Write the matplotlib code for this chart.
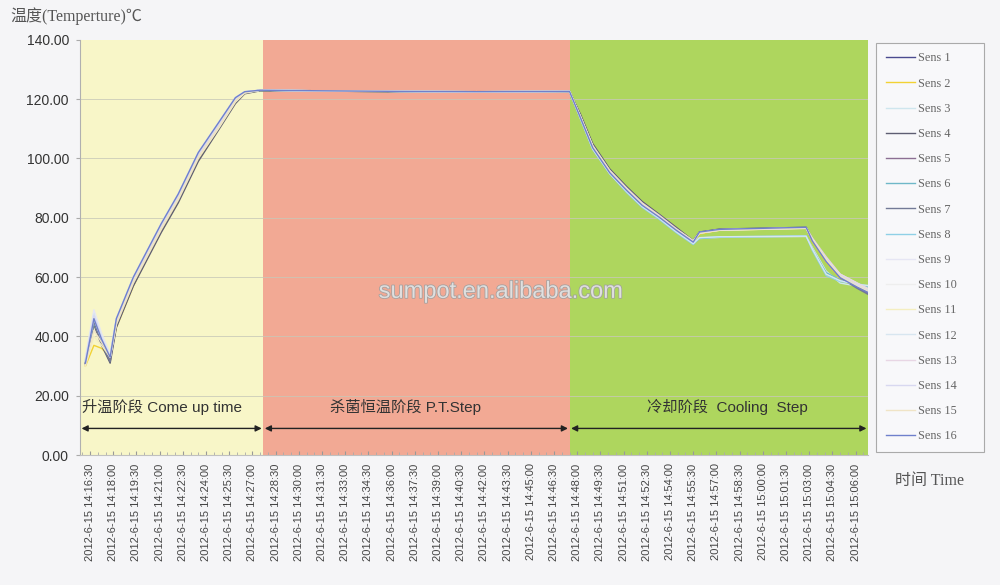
import matplotlib
matplotlib.use("Agg")
import matplotlib.pyplot as plt
import matplotlib.patheffects as pe
import numpy as np

# ---- data -------------------------------------------------------------
# time in minutes after 2012-6-15 14:16:30
times = [-0.3, 0.25, 0.75, 1.3, 1.7, 2.8, 3.6, 4.6, 5.7, 7.0, 8.3, 9.4, 10.0, 11.0,
         15, 20, 25, 31.0, 31.7, 32.5, 33.6, 34.7, 35.7, 36.8, 37.9, 39.0, 39.4,
         40.7, 46.3, 46.7, 47.6, 48.5, 49.6, 50.3]

sens1 = [31, 45.5, 38, 32.5, 45, 59, 67, 77, 87, 101, 111, 120, 122.3, 123, 122.8, 122.6, 122.5,
         122.6, 114.2, 104, 95.6, 89.5, 84.5, 80.4, 76, 72, 75, 76, 76.7, 72.6, 65.9, 60.1, 56.8, 54.7]
sens2 = [30, 37, 36, 33, 43, 57, 65.5, 75.5, 85.5, 99.5, 110, 119, 122, 122.9, 122.7, 122.5, 122.4,
         122.5, 114, 103.5, 95, 89, 84, 80, 75.5, 71.5, 74.5, 75.8, 76.5, 72, 65, 59.5, 56.5, 55]
sens3 = [32, 48, 40, 34, 46, 60, 68, 78, 88, 102, 112, 120.5, 122.5, 123, 122.8, 122.6, 122.5,
         122.6, 113.5, 103.5, 95, 89, 84, 80, 75.5, 71.5, 73, 73.4, 73.7, 70, 62, 58, 57, 56.5]
sens4 = [30.5, 44, 37, 31, 43, 57, 65, 75, 85, 99, 109.5, 118.5, 121.8, 122.8, 122.7, 122.5, 122.4,
         122.5, 115, 105, 96.5, 90.5, 85.5, 81.2, 76.8, 72.3, 75.2, 76.2, 76.8, 73, 66.5, 60.5, 57, 55]
sens5 = [31, 45, 38, 32, 44, 58, 66, 76, 86, 100, 110.5, 119.5, 122.2, 123, 122.8, 122.6, 122.5,
         122.6, 114.5, 104.5, 96, 90, 85, 81, 76.5, 72, 75, 76, 76.6, 72.8, 66.2, 60.3, 56.5, 54.5]
sens6 = [31.5, 44.5, 38.5, 33, 44.5, 58.5, 66.5, 76.5, 86.5, 100.5, 110.8, 119.8, 122.2, 122.9, 122.7,
         122.5, 122.4, 122.5, 113.8, 103.5, 95, 88.8, 83.8, 79.6, 75.2, 71.2, 73, 73.5, 73.8, 69.5, 61.5,
         59, 57.5, 56.5]
sens7 = [31, 45, 37.5, 31.5, 44, 58, 66, 76, 86, 100, 110.5, 119.5, 122.2, 122.9, 122.7, 122.5, 122.4,
         122.5, 114.5, 104.5, 96, 90, 85, 80.8, 76.3, 72.2, 75, 76, 76.6, 72.5, 65.5, 59.8, 56.2, 54.2]
sens8 = [32, 46, 39, 33.5, 45.5, 59.5, 67.5, 77.5, 87.5, 101.5, 111.5, 120.3, 122.4, 123, 122.8, 122.6,
         122.5, 122.6, 113.5, 103, 94.8, 88.5, 83.5, 79.5, 75, 71, 73.2, 73.6, 73.9, 69, 60.5, 58.5, 57.8, 57]
sens9 = [33, 49, 41, 34, 46, 60, 68, 78, 88, 102, 112, 120.5, 122.5, 123, 122.8, 122.6, 122.5,
         122.6, 114, 104, 95.5, 89.5, 84.5, 80.5, 76, 72, 75, 76, 76.7, 73, 66, 61, 58, 56]
sens10 = [32, 47, 40, 33, 45, 59, 67, 77, 87, 101, 111, 120, 122.3, 123, 122.8, 122.6, 122.5,
          122.6, 114, 104, 95.5, 89.5, 84.5, 80.5, 76, 72, 74.8, 75.8, 76.5, 72.5, 65.5, 60, 57.5, 56]
sens11 = [30, 40, 37, 33, 44, 58, 66, 76, 86, 100, 110, 119, 122, 123, 122.8, 122.6, 122.5,
          122.6, 114.2, 104.2, 95.8, 89.8, 84.8, 80.6, 76.2, 72, 74.8, 75.8, 76.4, 72.6, 66, 60.5, 57.5, 56]
sens12 = [32.5, 47.5, 40, 33.5, 45.5, 59.5, 67.5, 77.5, 87.5, 101.5, 111.5, 120.3, 122.4, 123, 122.8,
          122.6, 122.5, 122.6, 113.6, 103.2, 94.9, 88.8, 83.8, 79.8, 75.3, 71.3, 73.3, 73.6, 73.8, 69.5,
          61, 58.8, 57.5, 57.2]
sens13 = [31.5, 46, 39, 33, 45, 59, 67, 77, 87, 101, 111, 120, 122.3, 123, 122.8, 122.6, 122.5,
          122.6, 114.3, 104.3, 96, 90, 85, 80.8, 76.3, 72.3, 75, 76, 76.6, 73.2, 66.8, 61, 58, 56.2]
sens14 = [32, 47, 39.5, 33, 45, 59, 67, 77, 87, 101, 111, 120, 122.3, 123, 122.8, 122.6, 122.5,
          122.6, 114, 104, 95.6, 89.6, 84.6, 80.4, 76, 71.8, 74.8, 75.9, 76.5, 72.8, 66.2, 60.5, 57.2, 55.5]
sens15 = [30.5, 42, 38, 33, 44.5, 58.5, 66.5, 76.5, 86.5, 100.5, 110.5, 119.5, 122.2, 123, 122.8,
          122.6, 122.5, 122.6, 114.1, 104.1, 95.7, 89.7, 84.7, 80.5, 76.1, 72.1, 74.9, 75.9, 76.6, 72.7,
          66, 60.2, 57, 55.2]
sens16 = [31, 46, 39, 33, 46, 60, 68, 78, 88, 102, 112, 120.5, 122.5, 123, 122.8, 122.6, 122.5,
          122.6, 113.8, 103.6, 95.2, 89.2, 84.2, 80.2, 75.8, 71.8, 75.2, 76.1, 76.8, 72.2, 65.2, 59.8,
          56.6, 54.8]

series = [sens1, sens2, sens3, sens4, sens5, sens6, sens7, sens8,
          sens9, sens10, sens11, sens12, sens13, sens14, sens15, sens16]
labels = ["Sens %d" % i for i in range(1, 17)]
colors = ['#4b4b8f', '#f2d233', '#cfe6ee', '#5e5e72', '#8c6f93', '#6fb8c8', '#737a96', '#8fd0e6',
          '#e6e6f4', '#eeeeee', '#f4eec0', '#d8e6f0', '#e8d6e4', '#d8d8f0', '#f0e4c6', '#6f80cc']

tick_labels = ["2012-6-15 14:16:30", "2012-6-15 14:18:00", "2012-6-15 14:19:30",
               "2012-6-15 14:21:00", "2012-6-15 14:22:30", "2012-6-15 14:24:00",
               "2012-6-15 14:25:30", "2012-6-15 14:27:00", "2012-6-15 14:28:30",
               "2012-6-15 14:30:00", "2012-6-15 14:31:30", "2012-6-15 14:33:00",
               "2012-6-15 14:34:30", "2012-6-15 14:36:00", "2012-6-15 14:37:30",
               "2012-6-15 14:39:00", "2012-6-15 14:40:30", "2012-6-15 14:42:00",
               "2012-6-15 14:43:30", "2012-6-15 14:45:00", "2012-6-15 14:46:30",
               "2012-6-15 14:48:00", "2012-6-15 14:49:30", "2012-6-15 14:51:00",
               "2012-6-15 14:52:30", "2012-6-15 14:54:00", "2012-6-15 14:55:30",
               "2012-6-15 14:57:00", "2012-6-15 14:58:30", "2012-6-15 15:00:00",
               "2012-6-15 15:01:30", "2012-6-15 15:03:00", "2012-6-15 15:04:30",
               "2012-6-15 15:06:00"]
tick_pos = [1.5 * i for i in range(len(tick_labels))]

phase_bounds = [-0.65, 11.2, 31.0, 50.3]
phase_colors = ['#f8f6c8', '#f2a994', '#aed65e']
phase_names = ["升温阶段 Come up time", "杀菌恒温阶段 P.T.Step", "冷却阶段  Cooling  Step"]
phase_text_x = [4.65, 20.4, 41.2]

# ---- figure -----------------------------------------------------------
bg = '#f5f5f7'
fig = plt.figure(figsize=(10, 5.85), dpi=100, facecolor=bg)
ax = fig.add_axes([0.08, 0.222, 0.788, 0.71])
ax.set_facecolor(bg)

for i in range(3):
    ax.axvspan(phase_bounds[i], phase_bounds[i + 1], color=phase_colors[i], lw=0, zorder=0)

for y in range(20, 140, 20):
    ax.axhline(y, color='#c8c8b8', lw=0.7, zorder=1, alpha=0.8)

for s, lab, c in zip(series, labels, colors):
    ax.plot(times, s, color=c, lw=1.0, label=lab, zorder=3)

ax.set_xlim(-0.65, 50.3)
ax.set_ylim(0, 140)
ax.set_yticks(range(0, 141, 20))
ax.set_yticklabels(["%.2f" % v for v in range(0, 141, 20)],
                   fontsize=10, color='#333333', family='Liberation Sans')
ax.set_xticks(tick_pos)
ax.set_xticklabels(tick_labels, rotation=90, fontsize=8, color='#444444',
                   family='Liberation Sans')
ax.set_xticks(np.arange(-0.5, 50.3, 0.5), minor=True)
ax.tick_params(axis='x', which='major', length=3, color='#999999', direction='in', pad=6)
ax.tick_params(axis='x', which='minor', length=2, color='#aaaaaa', direction='in')
ax.tick_params(axis='y', length=3, color='#aaaaaa', pad=5)
for sp in ['top', 'right']:
    ax.spines[sp].set_visible(False)
ax.spines['left'].set_color('#b0b0b0')
ax.spines['bottom'].set_color('#c0c0c0')

# phase arrows and labels
arrow_y = 9.0
for i in range(3):
    a0 = phase_bounds[i] + 0.1
    a1 = phase_bounds[i + 1] - 0.1
    ax.annotate('', xy=(a1, arrow_y), xytext=(a0, arrow_y),
                arrowprops=dict(arrowstyle='<|-|>', color='#222222', lw=1.0,
                                mutation_scale=9, shrinkA=0, shrinkB=0), zorder=4)
    ax.text(phase_text_x[i], 16.3, phase_names[i], ha='center', va='center', fontsize=11,
            color='#333333', family=['Liberation Sans', 'Noto Sans CJK SC'], zorder=4)

# watermark
ax.text(0.534, 0.393, "sumpot.en.alibaba.com", transform=ax.transAxes, ha='center', va='center',
        fontsize=17, color='#e4e4e4', alpha=0.9, family='Liberation Sans', zorder=5,
        path_effects=[pe.withStroke(linewidth=1.2, foreground='#a0a0a0')])

# titles
fig.text(0.01, 0.972, "温度(Temperture)℃", fontsize=11.5, color='#555555',
         family=['Liberation Serif', 'Noto Sans CJK SC'], ha='left', va='center')
fig.text(0.895, 0.178, "时间 Time", fontsize=11.5, color='#555555',
         family=['Liberation Serif', 'Noto Sans CJK SC'], ha='left', va='center')

leg = fig.legend(loc='upper left', bbox_to_anchor=(0.876, 0.927, 0.108, 0.0), mode='expand',
                 borderaxespad=0.0,
                 frameon=True, fancybox=False, edgecolor='#aaaaaa', facecolor='#f8f8fa',
                 prop={'family': 'Liberation Serif', 'size': 8.8}, labelcolor='#666666',
                 handlelength=2.4, handletextpad=0.2, labelspacing=1.08, borderpad=0.8,
                 framealpha=1)
leg.get_frame().set_linewidth(0.8)

fig.savefig("out.png", dpi=100, facecolor=bg)
